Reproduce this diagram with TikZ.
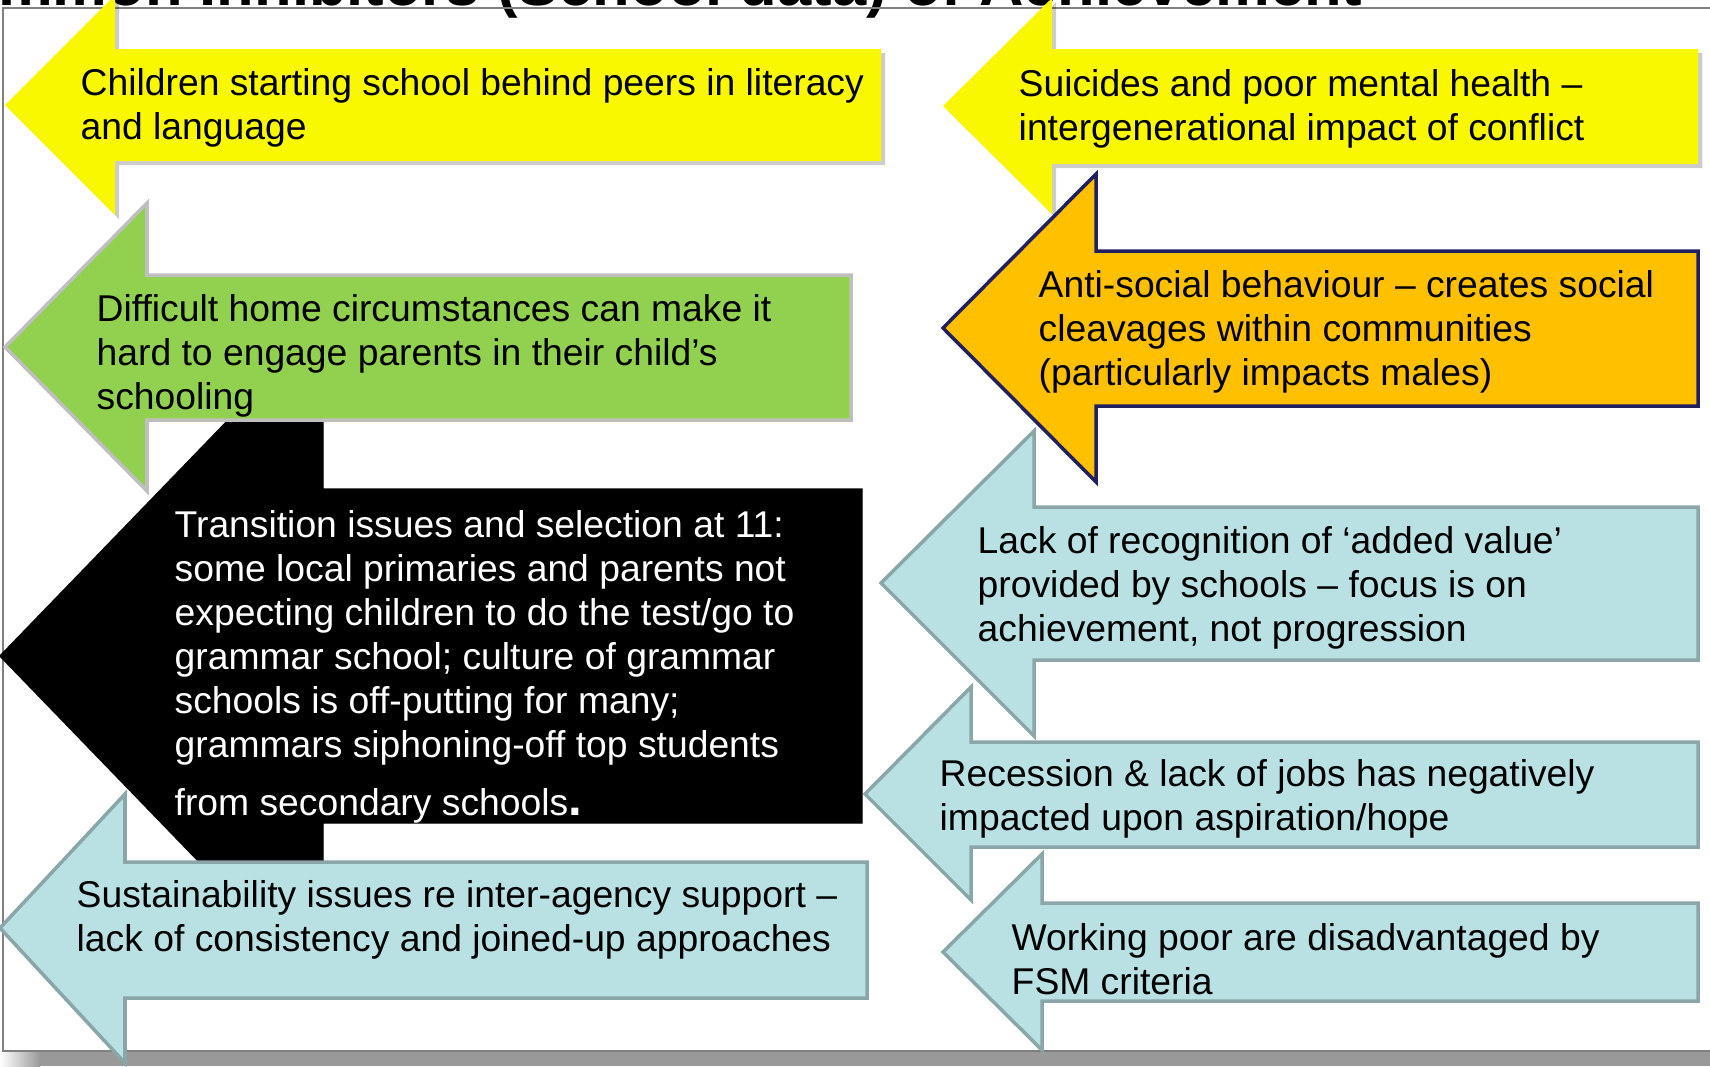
\documentclass[tikz,border=0pt]{standalone}
\usepackage{fontspec}
\setmainfont{Liberation Sans}
\usetikzlibrary{shadows}
\definecolor{arrowyellow}{RGB}{250,248,0}
\definecolor{arrowgreen}{RGB}{146,208,80}
\definecolor{greenline}{RGB}{191,191,191}
\definecolor{arroworange}{RGB}{255,192,0}
\definecolor{orangeline}{RGB}{32,32,96}
\definecolor{arrowteal}{RGB}{185,224,227}
\definecolor{tealline}{RGB}{138,166,168}
\definecolor{framegray}{RGB}{128,128,128}
\definecolor{shadowgray}{RGB}{153,153,153}

\begin{document}
\begin{tikzpicture}[x=0.01cm,y=-0.01cm,
  every node/.style={inner sep=0pt,anchor=base west,align=left,font=\fontsize{10.6}{12.5}\selectfont},
  yellowarrow/.style={fill=arrowyellow,drop shadow={shadow xshift=1.2pt,shadow yshift=-1.2pt,opacity=.2,fill=black}},
  greenarrow/.style={fill=arrowgreen,draw=greenline,line width=1pt},
  orangearrow/.style={fill=arroworange,draw=orangeline,line width=1pt},
  blackarrow/.style={fill=black},
  tealarrow/.style={fill=arrowteal,draw=tealline,line width=1pt}]
  \useasboundingbox (0,0) rectangle (1710,1066);
  \clip (0,0) rectangle (1710,1066);
  % slide frame and title
  \node[font=\fontsize{17.5}{20}\selectfont\bfseries,anchor=base east] (title) at (1363,5) {Common Inhibitors (School data) of Achievement};
  \draw[framegray,line width=.5pt] (1710,8) -- (3,8) -- (3,1051) -- (1710,1051);
  \shade[left color=white,right color=shadowgray] (0,1052) rectangle (40,1066);
  \fill[shadowgray] (40,1052) rectangle (1710,1066);
  % left column
  \draw[blackarrow] (0,656) -- (323,322) -- (323,489) -- (862,489) -- (862,823) -- (323,823) -- (323,990) -- cycle;
  \draw[greenarrow] (5,347) -- (147,203) -- (147,275) -- (851,275) -- (851,420) -- (147,420) -- (147,491) -- cycle;
  \path[yellowarrow] (5,105) -- (115,-5) -- (115,49) -- (881,49) -- (881,161) -- (115,161) -- (115,215) -- cycle;
  \draw[tealarrow] (0,928) -- (125,794) -- (125,862) -- (867,862) -- (867,998) -- (125,998) -- (125,1063) -- cycle;
  % right column
  \path[yellowarrow] (943,106) -- (1052,-2) -- (1052,49) -- (1698,49) -- (1698,164) -- (1052,164) -- (1052,214) -- cycle;
  \draw[orangearrow] (943,328) -- (1096,174) -- (1096,251) -- (1698,251) -- (1698,406) -- (1096,406) -- (1096,482) -- cycle;
  \draw[tealarrow] (881,583) -- (1034,431) -- (1034,507) -- (1698,507) -- (1698,660) -- (1034,660) -- (1034,736) -- cycle;
  \draw[tealarrow] (865,794) -- (971,687) -- (971,742) -- (1698,742) -- (1698,847) -- (971,847) -- (971,900) -- cycle;
  \draw[tealarrow] (943,952) -- (1042,854) -- (1042,903) -- (1698,903) -- (1698,1001) -- (1042,1001) -- (1042,1050) -- cycle;
  % texts (anchored at the baseline of the last line)
  \node (literacy) at (80,139) {Children starting school behind peers in literacy\\and language};
  \node (home) at (96,409) {Difficult home circumstances can make it\\hard to engage parents in their child’s\\schooling};
  \node[text=white] (transition) at (174,815) {Transition issues and selection at 11:\\some local primaries and parents not\\expecting children to do the test/go to\\grammar school; culture of grammar\\schools is off-putting for many;\\grammars siphoning-off top students\\[4pt]from secondary schools{\fontsize{14}{14}\selectfont\bfseries .}};
  \node (agency) at (76,951) {Sustainability issues re inter-agency support –\\lack of consistency and joined-up approaches};
  \node (suicides) at (1018,140) {Suicides and poor mental health –\\intergenerational impact of conflict};
  \node (antisocial) at (1038,385) {Anti-social behaviour – creates social\\cleavages within communities\\(particularly impacts males)};
  \node (addedvalue) at (977,641) {Lack of recognition of ‘added value’\\provided by schools – focus is on\\achievement, not progression};
  \node (recession) at (939,830) {Recession \& lack of jobs has negatively\\impacted upon aspiration/hope};
  \node (fsm) at (1011,994) {Working poor are disadvantaged by\\FSM criteria};
\end{tikzpicture}
\end{document}
